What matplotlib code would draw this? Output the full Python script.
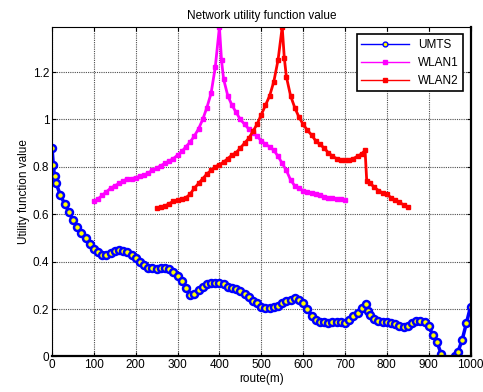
import numpy as np
import matplotlib
matplotlib.use('Agg')
from matplotlib import pyplot as plt
from matplotlib.ticker import FuncFormatter

plt.rcParams['font.family'] = ['Liberation Sans', 'DejaVu Sans']

umts_x = [0, 3, 6, 10, 20, 30, 40, 50, 60, 70, 80, 90, 100, 110, 120, 130, 140, 150,
          160, 170, 180, 190, 200, 210, 220, 230, 240, 250, 260, 270, 280, 290, 300,
          310, 320, 330, 340, 350, 360, 370, 380, 390, 400, 410, 420, 430, 440, 450,
          460, 470, 480, 490, 500, 510, 520, 530, 540, 550, 560, 570, 580, 590, 600,
          610, 620, 630, 640, 650, 660, 670, 680, 690, 700, 710, 720, 730, 740, 750,
          755, 760, 770, 780, 790, 800, 810, 820, 830, 840, 850, 860, 870, 880, 890,
          900, 910, 920, 930, 945, 962, 970, 980, 990, 1000]
umts_y = [0.88, 0.81, 0.76, 0.73, 0.68, 0.645, 0.61, 0.575, 0.545, 0.52, 0.50, 0.475,
          0.455, 0.44, 0.43, 0.43, 0.435, 0.445, 0.45, 0.445, 0.44, 0.43, 0.415, 0.40,
          0.385, 0.375, 0.375, 0.37, 0.375, 0.375, 0.37, 0.355, 0.34, 0.32, 0.29, 0.26,
          0.265, 0.28, 0.295, 0.305, 0.31, 0.31, 0.31, 0.305, 0.295, 0.29, 0.285, 0.275,
          0.265, 0.25, 0.235, 0.225, 0.21, 0.205, 0.205, 0.21, 0.215, 0.225, 0.235, 0.24,
          0.245, 0.24, 0.225, 0.20, 0.17, 0.155, 0.145, 0.145, 0.14, 0.145, 0.145, 0.145,
          0.14, 0.155, 0.17, 0.185, 0.205, 0.22, 0.19, 0.175, 0.16, 0.15, 0.145, 0.145,
          0.14, 0.135, 0.13, 0.125, 0.13, 0.14, 0.15, 0.15, 0.145, 0.13, 0.09, 0.06,
          0.01, np.nan, 0.0, 0.02, 0.07, 0.14, 0.21]

wlan1_x = [100, 110, 120, 130, 140, 150, 160, 170, 180, 190, 200, 210, 220, 230, 240,
           250, 260, 270, 280, 290, 300, 310, 320, 330, 340, 350, 360, 370, 380, 390,
           400, 405, 410, 420, 430, 440, 450, 460, 470, 480, 490, 500, 510, 520, 530,
           540, 550, 560, 570, 580, 590, 600, 610, 620, 630, 640, 650, 660, 670, 680,
           690, 700]
wlan1_y = [0.655, 0.665, 0.68, 0.695, 0.71, 0.72, 0.73, 0.74, 0.75, 0.75, 0.755, 0.76,
           0.765, 0.775, 0.785, 0.795, 0.805, 0.815, 0.825, 0.835, 0.85, 0.865, 0.885,
           0.905, 0.93, 0.96, 1.0, 1.05, 1.11, 1.22, 1.39, 1.25, 1.17, 1.10, 1.06, 1.03,
           1.00, 0.98, 0.96, 0.945, 0.93, 0.91, 0.895, 0.885, 0.87, 0.845, 0.815, 0.785,
           0.745, 0.72, 0.71, 0.70, 0.695, 0.69, 0.685, 0.68, 0.675, 0.67, 0.67, 0.665,
           0.665, 0.66]

wlan2_x = [250, 260, 270, 280, 290, 300, 310, 320, 330, 340, 350, 360, 370, 380, 390,
           400, 410, 420, 430, 440, 450, 460, 470, 480, 490, 500, 510, 520, 530, 540,
           550, 555, 560, 570, 580, 590, 600, 610, 620, 630, 640, 650, 660, 670, 680,
           690, 700, 710, 720, 730, 740, 748, 752, 760, 770, 780, 790, 800, 810, 820,
           830, 840, 850]
wlan2_y = [0.625, 0.63, 0.635, 0.645, 0.655, 0.66, 0.665, 0.67, 0.685, 0.71, 0.73, 0.75,
           0.77, 0.785, 0.80, 0.81, 0.82, 0.835, 0.85, 0.86, 0.88, 0.90, 0.92, 0.95, 0.98,
           1.02, 1.06, 1.10, 1.16, 1.25, 1.39, 1.26, 1.18, 1.10, 1.05, 1.01, 0.98, 0.955,
           0.935, 0.91, 0.895, 0.88, 0.86, 0.845, 0.835, 0.83, 0.83, 0.83, 0.835, 0.845,
           0.855, 0.87, 0.74, 0.73, 0.715, 0.70, 0.69, 0.685, 0.67, 0.66, 0.65, 0.64, 0.63]

fig = plt.figure(figsize=(4.83, 3.92), dpi=100)
ax = fig.add_axes([0.1077, 0.0906, 0.8665, 0.8404])

ax.plot(umts_x, umts_y, color='blue', lw=2.5, marker='o', ms=5,
        mfc='yellow', mec='blue', mew=1.8, label='UMTS')
ax.plot(wlan1_x, wlan1_y, color='magenta', lw=2, marker='s', ms=3.5,
        mfc='magenta', mec='magenta', label='WLAN1')
ax.plot(wlan2_x, wlan2_y, color='red', lw=2, marker='s', ms=3.5,
        mfc='red', mec='red', label='WLAN2')

ax.set_xlim(0, 1000)
ax.set_ylim(0, 1.39)
ax.set_xticks(np.arange(0, 1001, 100))
ax.set_yticks(np.arange(0, 1.21, 0.2))
ax.yaxis.set_major_formatter(FuncFormatter(lambda v, p: f'{v:g}'))
ax.tick_params(direction='in', length=3, top=True, right=True, labelsize=8.5, pad=2)
ax.grid(True, color='0.3', linestyle=(0, (1, 1)), linewidth=0.8)
for s in ax.spines.values():
    s.set_linewidth(0.8)
ax.spines['right'].set_linewidth(1.6)
ax.spines['bottom'].set_linewidth(1.6)

ax.set_title('Network utility function value', fontsize=8.5, pad=6)
ax.set_xlabel('route(m)', fontsize=8.5, labelpad=1)
ax.set_ylabel('Utility function value', fontsize=8.5, labelpad=2)

leg = ax.legend(loc='upper right', fontsize=8.5, fancybox=False, framealpha=1,
                edgecolor='black', borderaxespad=0.6, handlelength=4)
for h in leg.get_lines():
    h.set_linewidth(1)
    h.set_markersize(3.5)
    h.set_markeredgewidth(1)
leg.get_frame().set_linewidth(1.2)

fig.savefig('out.png', dpi=100)
